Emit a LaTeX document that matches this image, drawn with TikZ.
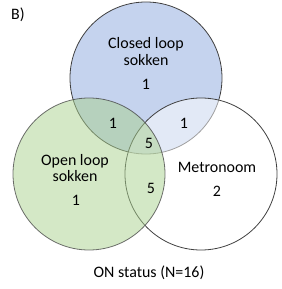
\documentclass[tikz,border=0pt]{standalone}
\usepackage{fontspec}
\setmainfont{Carlito}
\usetikzlibrary{positioning}
\definecolor{closedblue}{HTML}{C5D3EE}
\definecolor{opengreen}{HTML}{A9D18E}
\definecolor{ringgray}{HTML}{404040}
\tikzset{
  ring/.style={draw=ringgray, line width=0.8bp, circle, minimum size=152bp, inner sep=0pt},
  label/.style={align=center, font=\fontsize{16}{17}\selectfont, inner sep=0pt},
  count/.style={font=\fontsize{16}{17}\selectfont, inner sep=0pt}
}

\begin{document}
\begin{tikzpicture}[x=1bp,y=-1bp]
  \useasboundingbox (0,0) rectangle (282,289);

  % circles
  \node[ring, fill=closedblue] (closed) at (146,78) {};
  \node[ring, fill=white, fill opacity=0.5] (metro) at (201,174) {};
  \node[ring, fill=opengreen, fill opacity=0.5, draw opacity=0.75] (open) at (89,174) {};

  % names
  \node[label] (closedname) at (146,51.5) {Closed loop\\sokken};
  \node[label] (openname) at (75,168) {Open loop\\sokken};
  \node[label] (metroname) at (217,167) {Metronoom};

  % counts
  \node[count] (nclosed) at (146,84.5) {1};
  \node[count] (nopen) at (76,200) {1};
  \node[count] (nmetro) at (217,191) {2};
  \node[count] (nco) at (113,123) {1};
  \node[count] (ncm) at (184,123) {1};
  \node[count] (nall) at (149,143) {5};
  \node[count] (nom) at (151,188) {5};

  \node[label] (panel) at (18,15) {B)};
  \node[label] (caption) at (149,273) {ON status (N=16)};
\end{tikzpicture}
\end{document}
